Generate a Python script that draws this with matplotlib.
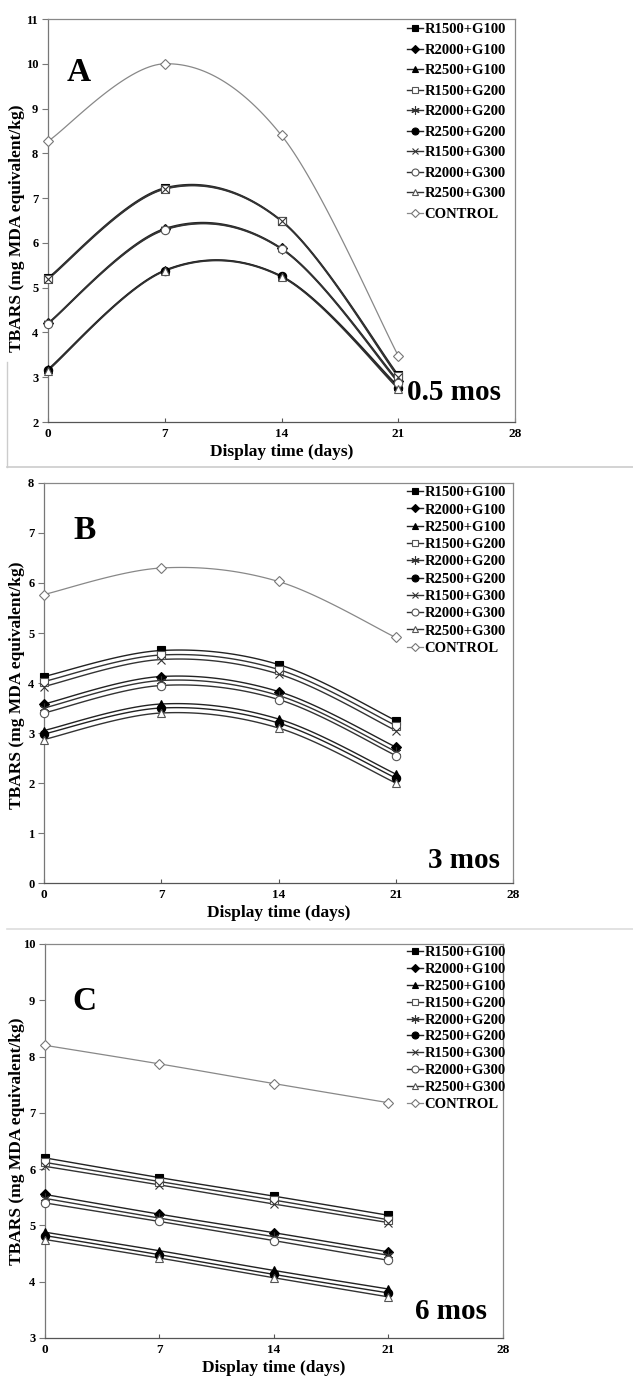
import numpy as np
import matplotlib
matplotlib.use('Agg')
import matplotlib.pyplot as plt
from matplotlib.lines import Line2D

plt.rcParams['font.family'] = ['Liberation Serif', 'DejaVu Serif']
plt.rcParams['font.weight'] = 'bold'

days = [0, 7, 14, 21]
labels = ['R1500+G100', 'R2000+G100', 'R2500+G100', 'R1500+G200', 'R2000+G200',
          'R2500+G200', 'R1500+G300', 'R2000+G300', 'R2500+G300', 'CONTROL']

# panel A: 0.5 months storage
a_r1500_g100 = [5.22, 7.23, 6.50, 3.05]
a_r2000_g100 = [4.21, 6.32, 5.88, 2.92]
a_r2500_g100 = [3.18, 5.39, 5.26, 2.80]
a_r1500_g200 = [5.20, 7.21, 6.49, 3.02]
a_r2000_g200 = [4.20, 6.30, 5.87, 2.90]
a_r2500_g200 = [3.16, 5.38, 5.25, 2.76]
a_r1500_g300 = [5.19, 7.20, 6.48, 3.00]
a_r2000_g300 = [4.19, 6.29, 5.86, 2.88]
a_r2500_g300 = [3.15, 5.37, 5.24, 2.74]
a_control = [8.27, 10.00, 8.40, 3.48]

# panel B: 3 months storage
b_r1500_g100 = [4.13, 4.65, 4.37, 3.25]
b_r2000_g100 = [3.58, 4.13, 3.83, 2.72]
b_r2500_g100 = [3.05, 3.58, 3.28, 2.18]
b_r1500_g200 = [4.03, 4.56, 4.27, 3.15]
b_r2000_g200 = [3.50, 4.05, 3.75, 2.63]
b_r2500_g200 = [2.98, 3.50, 3.20, 2.10]
b_r1500_g300 = [3.93, 4.47, 4.18, 3.05]
b_r2000_g300 = [3.40, 3.95, 3.67, 2.55]
b_r2500_g300 = [2.87, 3.40, 3.10, 2.00]
b_control = [5.77, 6.30, 6.03, 4.91]

# panel C: 6 months storage
c_r1500_g100 = [6.20, 5.85, 5.52, 5.18]
c_r2000_g100 = [5.55, 5.20, 4.87, 4.53]
c_r2500_g100 = [4.88, 4.55, 4.20, 3.87]
c_r1500_g200 = [6.12, 5.78, 5.45, 5.10]
c_r2000_g200 = [5.48, 5.13, 4.80, 4.47]
c_r2500_g200 = [4.82, 4.48, 4.13, 3.80]
c_r1500_g300 = [6.05, 5.72, 5.38, 5.05]
c_r2000_g300 = [5.40, 5.07, 4.73, 4.38]
c_r2500_g300 = [4.75, 4.42, 4.07, 3.73]
c_control = [8.20, 7.87, 7.52, 7.18]

panel_a = [a_r1500_g100, a_r2000_g100, a_r2500_g100, a_r1500_g200, a_r2000_g200,
           a_r2500_g200, a_r1500_g300, a_r2000_g300, a_r2500_g300, a_control]
panel_b = [b_r1500_g100, b_r2000_g100, b_r2500_g100, b_r1500_g200, b_r2000_g200,
           b_r2500_g200, b_r1500_g300, b_r2000_g300, b_r2500_g300, b_control]
panel_c = [c_r1500_g100, c_r2000_g100, c_r2500_g100, c_r1500_g200, c_r2000_g200,
           c_r2500_g200, c_r1500_g300, c_r2000_g300, c_r2500_g300, c_control]

# marker, size, facecolor, edgecolor, line colour
styles = [('s', 6, 'black', 'black', '#222222'),
          ('D', 5, 'black', 'black', '#222222'),
          ('^', 6, 'black', 'black', '#222222'),
          ('s', 6, 'white', '#555555', '#333333'),
          ((6, 2, 0), 7, 'none', '#333333', '#333333'),
          ('o', 6, 'black', 'black', '#222222'),
          ('x', 6, 'none', '#333333', '#333333'),
          ('o', 6, 'white', '#555555', '#333333'),
          ('^', 6, 'white', '#555555', '#333333'),
          ('D', 5, 'white', '#777777', '#888888')]


def smooth(x, y, n=40):
    # excel-like smoothed line (bezier through the points)
    x = np.asarray(x, float)
    y = np.asarray(y, float)
    px = np.concatenate([[x[0]], x, [x[-1]]])
    py = np.concatenate([[y[0]], y, [y[-1]]])
    xs, ys = [], []
    t = np.linspace(0, 1, n)
    for i in range(1, len(px) - 2):
        p0, p1, p2, p3 = (np.array([px[j], py[j]]) for j in range(i - 1, i + 3))
        c1 = p1 + (p2 - p0) / 6
        c2 = p2 - (p3 - p1) / 6
        b = ((1 - t) ** 3)[:, None] * p1 + (3 * (1 - t) ** 2 * t)[:, None] * c1 \
            + (3 * (1 - t) * t ** 2)[:, None] * c2 + (t ** 3)[:, None] * p2
        xs.extend(b[:, 0])
        ys.extend(b[:, 1])
    return xs, ys


W, H = 633, 1381
fig = plt.figure(figsize=(W / 100, H / 100), dpi=100)

# axes boxes in pixels: left, right, top, bottom
boxes = [(48, 515, 19, 422), (44, 513, 483, 883), (45, 503, 944, 1338)]
ylims = [(2, 11), (0, 8), (3, 10)]
letters = ['A', 'B', 'C']
months = ['0.5 mos', '3 mos', '6 mos']
letter_pos = [(0.039, 0.868), (0.062, 0.88), (0.059, 0.853)]
month_pos = [(0.97, 0.072), (0.972, 0.0575), (0.965, 0.066)]
ylabel_y = [0.48, 0.495, 0.5]
leg_spacing = [0.5, 0.28, 0.25]
leg_top = [23, 486, 946]

for k, data in enumerate([panel_a, panel_b, panel_c]):
    l, r, t, b = boxes[k]
    ax = fig.add_axes([l / W, 1 - b / H, (r - l) / W, (b - t) / H])
    handles = []
    for i, ys in enumerate(data):
        m, ms, fc, ec, lc = styles[i]
        sx, sy = smooth(days, ys)
        lw = 0.9 if i == 9 else 1.0
        ax.plot(sx, sy, color=lc, lw=lw, zorder=2)
        ax.plot(days, ys, ls='none', marker=m, ms=ms, mfc=fc, mec=ec, mew=0.8,
                zorder=3, clip_on=False)
        handles.append(Line2D([], [], color=lc, lw=lw, marker=m, ms=ms - 1,
                              mfc=fc, mec=ec, mew=0.8))
    ax.set_xlim(0, 28)
    ax.set_ylim(*ylims[k])
    ax.set_xticks([0, 7, 14, 21, 28])
    ax.set_yticks(np.arange(ylims[k][0], ylims[k][1] + 1))
    for s in ax.spines.values():
        s.set_color('#888888')
        s.set_linewidth(0.9)
    ax.spines['bottom'].set_color('#555555')
    ax.spines['left'].set_color('#777777')
    ax.tick_params(axis='x', direction='in', length=3, color='#555555', labelsize=9.5, pad=4)
    ax.tick_params(axis='y', direction='out', length=4, color='#777777', labelsize=9, pad=3)
    ax.set_xlabel('Display time (days)', fontsize=12.5, fontweight='bold', labelpad=3)
    ax.set_ylabel('TBARS (mg MDA equivalent/kg)', fontsize=12.5, fontweight='bold')
    ax.yaxis.set_label_coords((17 - l) / (r - l), ylabel_y[k])
    ax.yaxis.label.set_va('center')
    ax.text(letter_pos[k][0], letter_pos[k][1], letters[k], transform=ax.transAxes,
            fontsize=24, fontweight='bold', va='center', ha='left')
    ax.text(month_pos[k][0], month_pos[k][1], months[k], transform=ax.transAxes,
            fontsize=21, fontweight='bold', va='center', ha='right')
    leg = ax.legend(handles, labels, loc='upper left', frameon=False,
                    bbox_to_anchor=(407 / W, 1 - leg_top[k] / H), bbox_transform=fig.transFigure,
                    fontsize=10.5, handlelength=1.1, handletextpad=0.1,
                    labelspacing=leg_spacing[k], borderaxespad=0, borderpad=0)
    for txt in leg.get_texts():
        txt.set_fontweight('bold')

# panel frames as in the source figure
fig.add_artist(Line2D([7 / W, 1], [1 - 467 / H, 1 - 467 / H], color='#cccccc', lw=1.2,
                      transform=fig.transFigure))
fig.add_artist(Line2D([7 / W, 7 / W], [1 - 362 / H, 1 - 467 / H], color='#cccccc', lw=1.0,
                      transform=fig.transFigure))
fig.add_artist(Line2D([7 / W, 1], [1 - 929 / H, 1 - 929 / H], color='#dddddd', lw=1.2,
                      transform=fig.transFigure))

fig.savefig('out.png', dpi=100)
